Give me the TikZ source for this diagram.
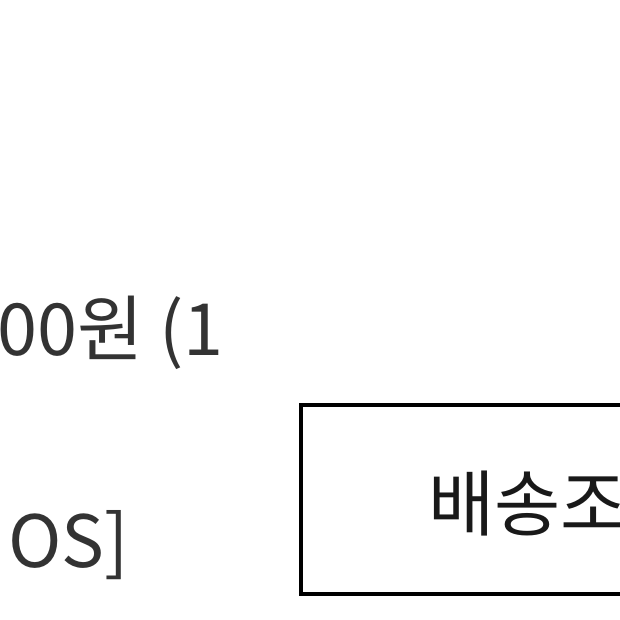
\documentclass[tikz,border=0pt]{standalone}
\usepackage{fontspec}
\setmainfont{Noto Sans CJK KR}
\definecolor{txt}{HTML}{333333}
\tikzset{lbl/.style={anchor=base west,inner sep=0pt,text=txt,font=\fontsize{72}{84}\selectfont}}
\begin{document}
\begin{tikzpicture}[x=1pt,y=-1pt]
\useasboundingbox (0,0) rectangle (620,620);
\clip (0,0) rectangle (620,620);
\fill[white] (0,0) rectangle (620,620);
\node[lbl] (a) at (-3,355) {00원 (1};
\node[lbl] (b) at (8,567) {OS]};
\draw[line width=4pt] (301,405) rectangle (660,594);
\node[lbl,text=black!90] (c) at (428,530) {배송조};
\end{tikzpicture}
\end{document}
